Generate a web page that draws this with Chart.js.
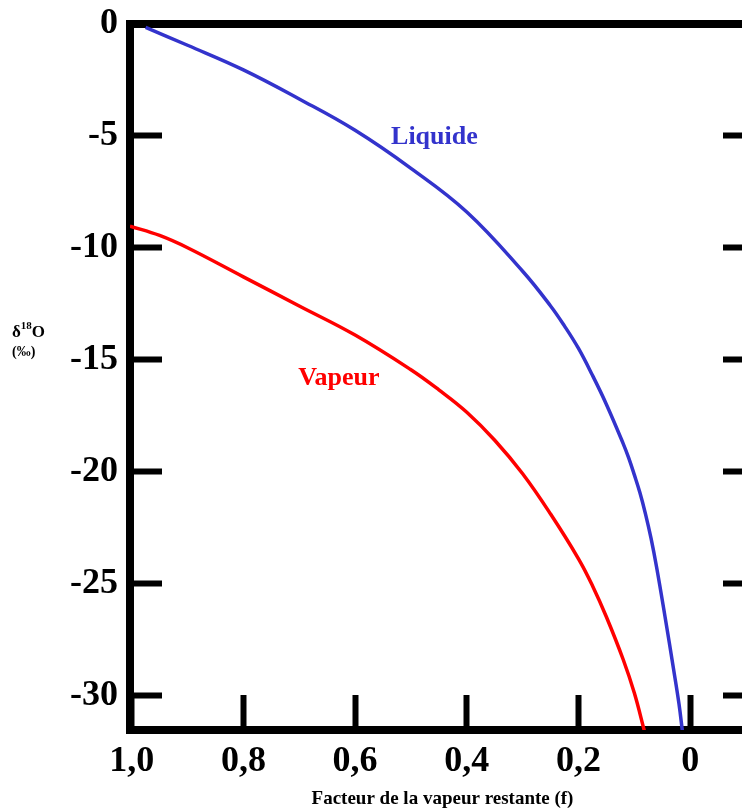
<!DOCTYPE html>
<html>
<head>
<meta charset="utf-8">
<script src="https://cdn.jsdelivr.net/npm/chart.js@4/dist/chart.umd.min.js"></script>
<style>
  html, body { margin: 0; padding: 0; background: #fff; overflow: hidden; }
  #wrap { position: relative; width: 770px; height: 809px; }
</style>
</head>
<body>
<div id="wrap"><canvas id="rayleighChart"></canvas></div>
<script>
// ---- data ----
const xTickValues = [1.0, 0.8, 0.6, 0.4, 0.2, 0];
const xTickLabels = ['1,0', '0,8', '0,6', '0,4', '0,2', '0'];
const yTickValues = [0, -5, -10, -15, -20, -25, -30];
const yTickLabels = ['0', '-5', '-10', '-15', '-20', '-25', '-30'];

// Liquide (remaining fraction f, delta 18O in permil)
const liquideF     = [0.975, 0.90, 0.80, 0.70, 0.60, 0.50, 0.40, 0.30, 0.25, 0.225, 0.20, 0.175, 0.15, 0.12, 0.11, 0.10, 0.09, 0.08, 0.07, 0.06, 0.045, 0.03, 0.02, 0.014];
const liquideDelta = [-0.15, -0.95, -2.05, -3.35, -4.75, -6.45, -8.4, -11.05, -12.6, -13.5, -14.5, -15.7, -17.0, -18.75, -19.4, -20.15, -20.95, -21.9, -23.0, -24.3, -26.5, -28.8, -30.4, -31.6];

// Vapeur
const vapeurF     = [1.003, 0.95, 0.90, 0.80, 0.70, 0.60, 0.50, 0.45, 0.40, 0.35, 0.30, 0.25, 0.20, 0.175, 0.15, 0.12, 0.10, 0.082];
const vapeurDelta = [-9.03, -9.45, -10.0, -11.3, -12.6, -13.9, -15.45, -16.35, -17.35, -18.6, -20.1, -21.9, -23.9, -25.1, -26.5, -28.4, -29.9, -31.6];

const seriesNames = ['Liquide', 'Vapeur'];
const axisTitleX = 'Facteur de la vapeur restante (f)';

// ---- layout / style ----
const colors = { liquide: '#3333cc', vapeur: '#ff0000', axis: '#000' };
const serif = "'Liberation Serif', 'Times New Roman', serif";
const AREA = { left: 130, right: 755, top: 24, bottom: 730 };
const CANVAS_W = 770, CANVAS_H = 809;
const X_RANGE = { min: -0.116, max: 1.003 };
const Y_RANGE = { min: -31.55, max: 0 };
// where the in-plot series names sit (data coordinates)
const nameAnchors = [
    { f: 0.458, d: -5.36, color: colors.liquide },
    { f: 0.629, d: -16.13, color: colors.vapeur }
];

function zip(xs, ys) {
    return xs.map((x, i) => ({ x: x, y: ys[i] }));
}

const axisBorder = { display: true, width: 8, color: colors.axis };

// inward tick marks: Chart.js draws ticks toward the labels, a negative length flips them inside
function tickGrid(len) {
    return { display: true, drawOnChartArea: false, drawTicks: true, tickLength: len, tickWidth: 6, tickColor: colors.axis };
}

// pin the chart area: fixed axis thickness and no label overhang padding
function fixHeight(h) {
    return s => { s.height = h; s.paddingLeft = 0; s.paddingRight = 0; };
}
function fixWidth(w) {
    return s => { s.width = w; s.paddingTop = 0; s.paddingBottom = 0; };
}

const curveNames = {
    id: 'curveNames',
    afterDatasetsDraw(chart) {
        const c = chart.ctx;
        const xs = chart.scales.x, ys = chart.scales.y;
        c.save();
        c.font = 'bold 26px ' + serif;
        c.textAlign = 'center';
        c.textBaseline = 'alphabetic';
        nameAnchors.forEach((a, i) => {
            c.fillStyle = a.color;
            c.fillText(seriesNames[i], xs.getPixelForValue(a.f), ys.getPixelForValue(a.d));
        });
        c.restore();
    }
};

// y title with a real superscript
const yTitle = {
    id: 'yTitle',
    afterDraw(chart) {
        const c = chart.ctx;
        c.save();
        c.fillStyle = '#000';
        c.textBaseline = 'alphabetic';
        c.textAlign = 'left';
        let x = 12;
        c.font = 'bold 17px ' + serif;
        c.fillText('δ', x, 337);
        x += c.measureText('δ').width;
        c.font = 'bold 11px ' + serif;
        c.fillText('18', x, 329);
        x += c.measureText('18').width;
        c.font = 'bold 17px ' + serif;
        c.fillText('O', x, 337);
        c.font = 'bold 14px ' + serif;
        c.fillText('(‰)', 12, 356);
        c.restore();
    }
};

const canvas = document.getElementById('rayleighChart');

new Chart(canvas, {
    type: 'line',
    data: {
        datasets: [{
            label: seriesNames[0],
            data: zip(liquideF, liquideDelta),
            borderColor: colors.liquide,
            borderWidth: 3.5,
            pointRadius: 0,
            tension: 0.4,
            fill: false
        }, {
            label: seriesNames[1],
            data: zip(vapeurF, vapeurDelta),
            borderColor: colors.vapeur,
            borderWidth: 3.5,
            pointRadius: 0,
            tension: 0.4,
            fill: false
        }]
    },
    options: {
        responsive: true,
        maintainAspectRatio: false,
        animation: false,
        layout: { padding: 0 },
        plugins: {
            legend: { display: false },
            tooltip: { enabled: false },
            title: { display: false }
        },
        scales: {
            x: {
                type: 'linear',
                position: 'bottom',
                reverse: true,
                min: X_RANGE.min,
                max: X_RANGE.max,
                z: 1,
                border: axisBorder,
                grid: tickGrid(-35),
                afterBuildTicks: s => { s.ticks = xTickValues.map(v => ({ value: v })); },
                afterFit: fixHeight(CANVAS_H - AREA.bottom),
                ticks: {
                    padding: 45,
                    maxRotation: 0,
                    autoSkip: false,
                    color: '#000',
                    font: { family: serif, size: 36, weight: 'bold' },
                    callback: v => {
                        const i = xTickValues.indexOf(v);
                        return i >= 0 ? xTickLabels[i] : '';
                    }
                },
                title: {
                    display: true,
                    text: axisTitleX,
                    color: '#000',
                    padding: 0,
                    font: { family: serif, size: 19, weight: 'bold', lineHeight: 1 }
                }
            },
            x2: {
                type: 'linear',
                position: 'top',
                min: X_RANGE.min,
                max: X_RANGE.max,
                z: 1,
                border: axisBorder,
                grid: { display: false },
                ticks: { display: false },
                afterFit: fixHeight(AREA.top)
            },
            y: {
                type: 'linear',
                position: 'left',
                min: Y_RANGE.min,
                max: Y_RANGE.max,
                z: 1,
                border: axisBorder,
                grid: tickGrid(-32),
                afterBuildTicks: s => { s.ticks = yTickValues.map(v => ({ value: v })); },
                afterFit: fixWidth(AREA.left),
                ticks: {
                    padding: 44,
                    autoSkip: false,
                    color: '#000',
                    font: { family: serif, size: 36, weight: 'bold' },
                    callback: v => {
                        const i = yTickValues.indexOf(v);
                        return i >= 0 ? yTickLabels[i] : '';
                    }
                }
            },
            y2: {
                type: 'linear',
                position: 'right',
                min: Y_RANGE.min,
                max: Y_RANGE.max,
                z: 1,
                border: axisBorder,
                grid: tickGrid(-32),
                afterBuildTicks: s => { s.ticks = yTickValues.map(v => ({ value: v })); },
                afterFit: fixWidth(CANVAS_W - AREA.right),
                ticks: { display: false }
            }
        }
    },
    plugins: [curveNames, yTitle]
});
</script>
</body>
</html>
